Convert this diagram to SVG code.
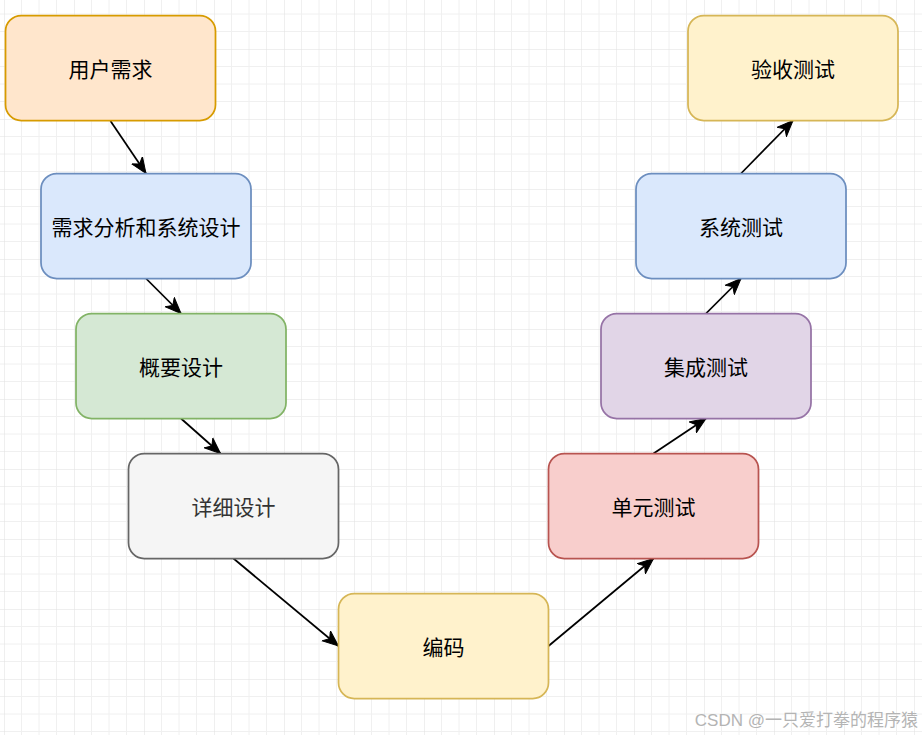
<svg xmlns="http://www.w3.org/2000/svg" width="922" height="735" viewBox="0 0 922 735">
<style>
.box{stroke-width:1.75}
.lbl{font-family:"Noto Sans CJK SC","Noto Sans",sans-serif;font-size:21px;text-anchor:middle;dominant-baseline:central;fill:#000}
.edge{stroke:#000;stroke-width:1.75;fill:none;marker-end:url(#arr)}
</style>
<defs>
<pattern id="grid" patternUnits="userSpaceOnUse" x="4" y="49" width="70" height="70">
<path d="M17.5 0V70M35 0V70M52.5 0V70M0 17.5H70M0 35H70M0 52.5H70" stroke="#f0f0f0" stroke-width="1" fill="none"/>
<path d="M0 0V70M0 0H70" stroke="#e0e0e0" stroke-width="1" fill="none"/>
</pattern>
<marker id="arr" markerUnits="userSpaceOnUse" markerWidth="20" markerHeight="20" refX="16" refY="7" orient="auto" viewBox="0 0 20 14">
<path d="M16 7L0 0.5L4.5 7L0 13.5Z" fill="#000" stroke="#000" stroke-width="1"/>
</marker>
</defs>
<rect width="922" height="735" fill="#fff"/>
<rect width="922" height="735" fill="url(#grid)"/>
<g id="connectors">
<path class="edge" d="M110.5 121L146 173.5"/>
<path class="edge" d="M146 278.5L181 313.5"/>
<path class="edge" d="M181 418.5L220.5 453.5"/>
<path class="edge" d="M233.5 558.5L338.5 646"/>
<path class="edge" d="M548.5 646L653.5 558.5"/>
<path class="edge" d="M653.5 453.5L706 418.5"/>
<path class="edge" d="M706 313.5L741 278.5"/>
<path class="edge" d="M741 173.5L793 120.5"/>
</g>
<g id="n1"><rect class="box" x="5.5" y="15.5" width="210" height="105" rx="15.75" fill="#ffe6cc" stroke="#d79b00"/><text class="lbl" x="110.5" y="68">用户需求</text></g>
<g id="n2"><rect class="box" x="41" y="173.5" width="210" height="105" rx="15.75" fill="#dae8fc" stroke="#6c8ebf"/><text class="lbl" x="146" y="226">需求分析和系统设计</text></g>
<g id="n3"><rect class="box" x="76" y="313.5" width="210" height="105" rx="15.75" fill="#d5e8d4" stroke="#82b366"/><text class="lbl" x="181" y="366">概要设计</text></g>
<g id="n4"><rect class="box" x="128.5" y="453.5" width="210" height="105" rx="15.75" fill="#f5f5f5" stroke="#666666"/><text class="lbl" x="233.5" y="506" style="fill:#333333">详细设计</text></g>
<g id="n5"><rect class="box" x="338.5" y="593.5" width="210" height="105" rx="15.75" fill="#fff2cc" stroke="#d6b656"/><text class="lbl" x="443.5" y="646">编码</text></g>
<g id="n6"><rect class="box" x="548.5" y="453.5" width="210" height="105" rx="15.75" fill="#f8cecc" stroke="#b85450"/><text class="lbl" x="653.5" y="506">单元测试</text></g>
<g id="n7"><rect class="box" x="601" y="313.5" width="210" height="105" rx="15.75" fill="#e1d5e7" stroke="#9673a6"/><text class="lbl" x="706" y="366">集成测试</text></g>
<g id="n8"><rect class="box" x="636" y="173.5" width="210" height="105" rx="15.75" fill="#dae8fc" stroke="#6c8ebf"/><text class="lbl" x="741" y="226">系统测试</text></g>
<g id="n9"><rect class="box" x="688" y="15.5" width="210" height="105" rx="15.75" fill="#fff2cc" stroke="#d6b656"/><text class="lbl" x="793" y="68">验收测试</text></g>
<text x="918" y="726" text-anchor="end" font-family="'Liberation Sans','Noto Sans CJK SC',sans-serif" font-size="17" fill="#b4b4b4">CSDN @一只爱打拳的程序猿</text>
</svg>
